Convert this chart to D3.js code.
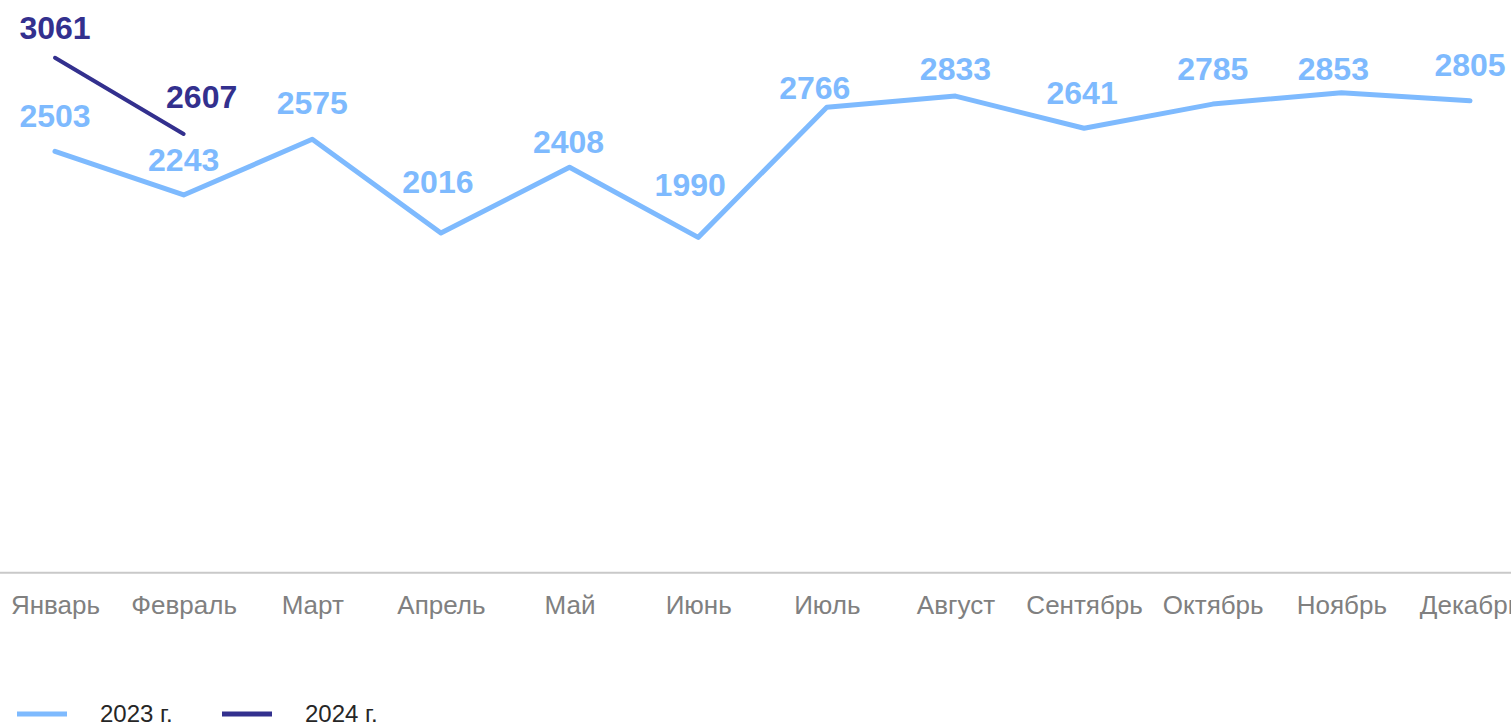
<!DOCTYPE html>
<html>
<head>
<meta charset="utf-8">
<script src="https://cdn.jsdelivr.net/npm/d3@7"></script>
<style>
  html, body { margin: 0; padding: 0; background: #fff; overflow: hidden; }
  svg { display: block; font-family: "Liberation Sans", Arial, sans-serif; }
</style>
</head>
<body>
<script>
var months = ["Январь", "Февраль", "Март", "Апрель", "Май", "Июнь", "Июль", "Август", "Сентябрь", "Октябрь", "Ноябрь", "Декабрь"];
var values2023 = [2503, 2243, 2575, 2016, 2408, 1990, 2766, 2833, 2641, 2785, 2853, 2805];
var values2024 = [3061, 2607];
var seriesNames = ["2023 г.", "2024 г."];

// hand nudges for value labels (dx, dy from the point), as placed in the original
var nudge2023 = [[0,-24],[0,-24],[0,-25],[-3,-40],[-1,-14],[-8,-41],[-12,-8],[0,-16],[-2,-24],[0,-24],[-8,-13],[0,-25]];
var nudge2024 = [[0,-19],[18,-26]];

var W = 1511, H = 725;
var colors = ["#7ebafe", "#33308e"];

var svg = d3.select("body").append("svg").attr("width", W).attr("height", H);

var x = d3.scalePoint().domain(months).range([55, 1470]);
var y = d3.scaleLinear().domain([0, 3400]).range([571, 1]);

// axis
var xAxis = svg.append("g")
    .attr("transform", "translate(0,573)")
    .call(d3.axisBottom(x).tickSize(0).tickPadding(23));
xAxis.select(".domain").remove();
svg.append("line")
    .attr("x1", 0).attr("x2", W)
    .attr("y1", 572.7).attr("y2", 572.7)
    .attr("stroke", "#c9c9c9").attr("stroke-width", 2);
xAxis.selectAll("text")
    .attr("font-family", "Liberation Sans, Arial, sans-serif")
    .attr("font-size", 26)
    .attr("fill", "#808080");

var line = d3.line()
    .x(function(d, i){ return x(months[i]); })
    .y(function(d){ return y(d); });

var series = [
  {vals: values2023, nudge: nudge2023, color: colors[0], w: 5},
  {vals: values2024, nudge: nudge2024, color: colors[1], w: 4}
];

series.forEach(function(s){
  svg.append("path")
     .attr("fill", "none")
     .attr("stroke", s.color)
     .attr("stroke-width", s.w)
     .attr("stroke-linecap", "round")
     .attr("stroke-linejoin", "round")
     .attr("d", line(s.vals));

  svg.append("g").selectAll("text")
     .data(s.vals)
     .enter().append("text")
       .attr("x", function(d, i){ return x(months[i]) + s.nudge[i][0]; })
       .attr("y", function(d, i){ return y(d) + s.nudge[i][1]; })
       .attr("text-anchor", "middle")
       .attr("font-size", 32)
       .attr("font-weight", "bold")
       .attr("fill", s.color)
       .text(function(d){ return d; });
});

// legend
var legend = svg.append("g").selectAll("g")
    .data(seriesNames)
    .enter().append("g")
      .attr("transform", function(d, i){ return "translate(" + (17 + i * 205) + ",0)"; });
legend.append("line")
    .attr("x1", 0).attr("x2", 50)
    .attr("y1", 714).attr("y2", 714)
    .attr("stroke", function(d, i){ return colors[i]; })
    .attr("stroke-width", 5);
legend.append("text")
    .attr("x", 83).attr("y", 722)
    .attr("font-size", 24)
    .attr("fill", "#262626")
    .text(function(d){ return d; });
</script>
</body>
</html>
